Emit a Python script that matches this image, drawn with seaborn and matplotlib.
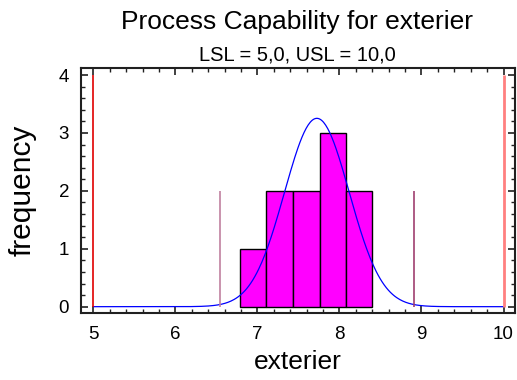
import numpy as np
import pandas as pd
import seaborn as sns
import matplotlib
matplotlib.use("Agg")
import matplotlib.pyplot as plt
from matplotlib.ticker import MultipleLocator

# Data
bin_edges = [6.79, 7.11, 7.43, 7.76, 8.08, 8.40]
counts = [1, 2, 2, 3, 2]
mean = 7.725
sigma = 0.395
lsl, usl = 5.0, 10.0
lower_3s, upper_3s = 6.545, 8.905
n_obs = 10

sns.set_theme(style="white")
plt.rcParams['font.family'] = ['Liberation Sans', 'DejaVu Sans']
plt.rcParams['text.color'] = 'black'
plt.rcParams['axes.labelcolor'] = 'black'

fig = plt.figure(figsize=(5.17, 3.80), dpi=100)
ax = fig.add_axes([81/517, 1-312.7/380, (515-81)/517, (312.7-68.3)/380])

centers = [(bin_edges[i] + bin_edges[i+1]) / 2 for i in range(len(counts))]
df = pd.DataFrame({"x": centers, "w": counts})
sns.histplot(data=df, x="x", weights="w", bins=bin_edges, ax=ax,
             color="#FF00FF", alpha=1, edgecolor="black", linewidth=1.0)

# fitted normal curve scaled to counts
bw = np.mean(np.diff(bin_edges))
xs = np.linspace(lsl, usl, 400)
ys = n_obs * bw * np.exp(-0.5 * ((xs - mean) / sigma) ** 2) / (sigma * np.sqrt(2 * np.pi))
sns.lineplot(x=xs, y=ys, ax=ax, color="#0000FF", linewidth=0.9)

ax.vlines(lsl, 0, 4, color="#E00000", linewidth=1.2)
ax.vlines(usl, 0, 4, color="#FF8080", linewidth=2.0)
ax.vlines(lower_3s, 0, 2, color="#C080A0", linewidth=1.2)
ax.vlines(upper_3s, 0, 2, color="#A04070", linewidth=1.2)

ax.set_xlim(4.85, 10.14)
ax.set_ylim(-0.104, 4.116)
ax.xaxis.set_major_locator(MultipleLocator(1))
ax.xaxis.set_minor_locator(MultipleLocator(0.2))
ax.yaxis.set_major_locator(MultipleLocator(1))
ax.yaxis.set_minor_locator(MultipleLocator(0.2))
ax.tick_params(which="both", direction="in", top=True, right=True, bottom=True, left=True,
               colors="#202020", labelcolor="black")
ax.tick_params(which="major", length=5, width=1.2, labelsize=13.5)
ax.tick_params(axis="x", which="major", pad=9.5)
ax.tick_params(axis="y", which="major", pad=8.5)
ax.tick_params(which="minor", length=3, width=1.0)
for s in ax.spines.values():
    s.set_color("#202020")
    s.set_linewidth(1.5)

ax.set_xlabel("exterier", fontsize=19, labelpad=5)
ax.set_ylabel("frequency", fontsize=21.5, labelpad=16)

fig.text(0.575, 1-22/380, "Process Capability for exterier", ha="center", va="center", fontsize=19)
fig.text(0.575, 1-55/380, "LSL = 5,0, USL = 10,0", ha="center", va="center", fontsize=14.5)

fig.savefig("out.png", dpi=100)
